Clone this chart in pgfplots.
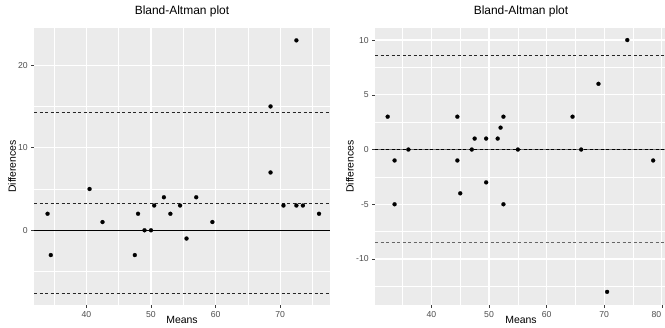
\documentclass[border=0pt]{standalone}
\usepackage{fontspec}
\setmainfont{Liberation Sans}
\usepackage{pgfplots}
\pgfplotsset{compat=1.18}
\definecolor{panelbg}{HTML}{EBEBEB}
\definecolor{ticktxt}{HTML}{4D4D4D}
\pgfplotsset{
  ggstyle/.style={
    scale only axis,
    axis background/.style={fill=panelbg},
    axis line style={draw=none},
    tick align=outside,
    tick pos=left,
    major tick length=2.75bp,
    minor tick length=0pt,
    tick style={color=ticktxt!80!black, line width=0.5bp},
    grid=both,
    major grid style={white, line width=1.1bp},
    minor grid style={white, line width=0.5bp},
    ticklabel style={font=\fontsize{8.7}{9}\selectfont, text=ticktxt},
    /pgf/number format/assume math mode=true,
    xticklabel style={yshift=-0.5bp},
    title style={font=\fontsize{12}{13}\selectfont, at={(axis description cs:0.5,1.04)}, anchor=center},
    label style={font=\fontsize{10.5}{12}\selectfont},
    xlabel style={at={(axis description cs:0.5,-0.04)}, anchor=north, inner sep=0pt},
    xlabel={Means},
    ylabel={Differences},
    title={Bland-Altman plot},
    clip=true,
  },
  dots/.style={only marks, mark=*, mark size=2.0bp, mark options={solid, fill=black, draw=black, line width=0.2bp}},
  hdash/.style={black!85, line width=0.6bp, dash pattern=on 3bp off 2.5bp, forget plot},
  hsolid/.style={black, line width=0.7bp, forget plot},
}
\begin{document}
\begin{tikzpicture}
\begin{axis}[ggstyle,
  at={(34bp,23bp)}, anchor=south west,
  width=296bp, height=277bp,
  xmin=31.9, xmax=77.7, ymin=-9.05, ymax=24.5,
  xtick={40,50,60,70}, ytick={0,10,20},
  minor xtick={35,45,55,65,75}, minor ytick={-5,5,15},
  ylabel style={at={(axis description cs:-0.074,0.5)}, anchor=center},
]
\addplot[hsolid] coordinates {(31.9,0) (77.7,0)};
\addplot[hdash] coordinates {(31.9,3.3) (77.7,3.3)};
\addplot[hdash] coordinates {(31.9,14.25) (77.7,14.25)};
\addplot[hdash] coordinates {(31.9,-7.65) (77.7,-7.65)};
\addplot[dots] coordinates {
(34,2) (34.5,-3) (40.5,5) (42.5,1) (47.5,-3) (48,2) (49,0) (50,0)
(50.5,3) (52,4) (53,2) (54.5,3) (55.5,-1) (57,4) (59.5,1)
(68.5,15) (68.5,7) (70.5,3) (72.5,23) (72.5,3) (73.5,3) (76,2)
};
\end{axis}
\begin{axis}[ggstyle,
  at={(375bp,23bp)}, anchor=south west,
  width=292bp, height=277bp,
  xmin=30.2, xmax=80.9, ymin=-14.2, ymax=11.1,
  xtick={40,50,60,70}, ytick={-10,-5,0,5,10},
  extra x ticks={80},
  extra x tick style={xticklabel style={anchor=north east, xshift=3bp}},
  minor xtick={35,45,55,65,75}, minor ytick={-12.5,-7.5,-2.5,2.5,7.5},
  ylabel style={at={(axis description cs:-0.086,0.5)}, anchor=center},
]
\addplot[forget plot, black!55, line width=1.1bp] coordinates {(30.2,0) (80.9,0)};
\addplot[hdash, black] coordinates {(30.2,0.065) (80.9,0.065)};
\addplot[hdash] coordinates {(30.2,8.62) (80.9,8.62)};
\addplot[hdash, black!60] coordinates {(30.2,-8.49) (80.9,-8.49)};
\addplot[dots] coordinates {
(32.4,3) (33.6,-1) (33.6,-5) (36,0) (44.5,3) (44.5,-1) (45,-4) (47,0)
(47.5,1) (49.5,1) (49.5,-3) (51.5,1) (52,2) (52.5,3) (52.5,-5) (55,0)
(64.5,3) (66,0) (69,6) (74,10) (70.5,-13) (78.5,-1)
};
\end{axis}
\pgfresetboundingbox
\useasboundingbox (0,0) rectangle (665bp,328bp);
\end{tikzpicture}
\end{document}
